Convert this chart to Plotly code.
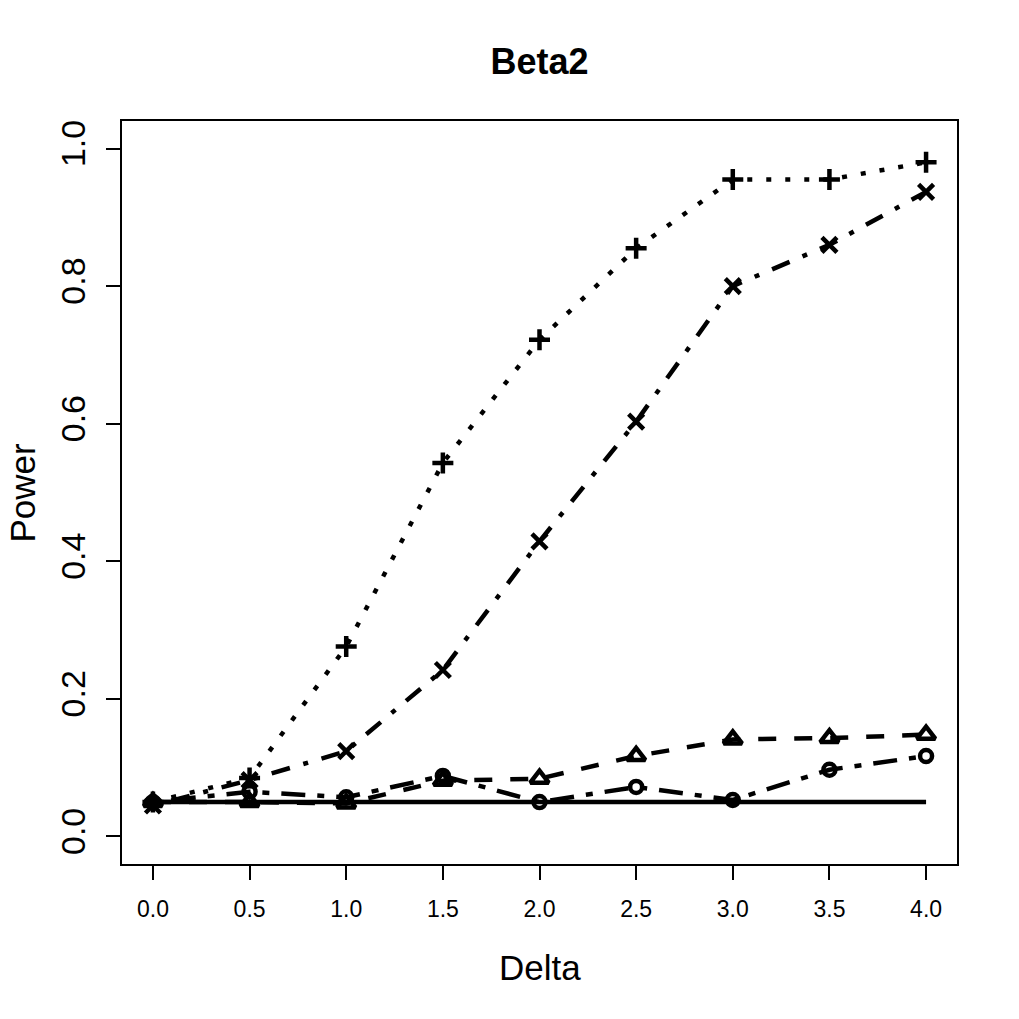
import plotly.graph_objects as go

delta = [0.0, 0.5, 1.0, 1.5, 2.0, 2.5, 3.0, 3.5, 4.0]
nominal = [0.05, 0.05, 0.05, 0.05, 0.05, 0.05, 0.05, 0.05, 0.05]
power_plus = [0.050, 0.085, 0.276, 0.543, 0.722, 0.855, 0.955, 0.955, 0.980]
power_cross = [0.045, 0.082, 0.124, 0.242, 0.429, 0.603, 0.800, 0.860, 0.937]
power_triangle = [0.050, 0.050, 0.048, 0.081, 0.084, 0.117, 0.141, 0.143, 0.148]
power_circle = [0.050, 0.065, 0.057, 0.088, 0.050, 0.072, 0.053, 0.097, 0.117]

x_ticks = [0.0, 0.5, 1.0, 1.5, 2.0, 2.5, 3.0, 3.5, 4.0]
y_ticks = [0.0, 0.2, 0.4, 0.6, 0.8, 1.0]

FONT = "Liberation Sans, Arial, Helvetica, sans-serif"
LW = 4.5
MLW = 4.5

fig = go.Figure()

fig.add_trace(go.Scatter(x=delta, y=nominal, mode="lines",
                         line=dict(color="black", width=LW)))

fig.add_trace(go.Scatter(x=delta, y=power_triangle, mode="lines+markers",
                         line=dict(color="black", width=LW, dash="18px,18px"),
                         marker=dict(symbol="triangle-up-open", size=16,
                                     color="black", line=dict(width=MLW, color="black"))))

fig.add_trace(go.Scatter(x=delta, y=power_plus, mode="lines+markers",
                         line=dict(color="black", width=LW, dash="5px,14px"),
                         marker=dict(symbol="cross-thin-open", size=15,
                                     color="black", line=dict(width=MLW, color="black"))))

fig.add_trace(go.Scatter(x=delta, y=power_cross, mode="lines+markers",
                         line=dict(color="black", width=LW, dash="5px,14px,19px,14px"),
                         marker=dict(symbol="x-thin-open", size=15,
                                     color="black", line=dict(width=MLW, color="black"))))

fig.add_trace(go.Scatter(x=delta, y=power_circle, mode="lines+markers",
                         line=dict(color="black", width=LW, dash="7px,12px,24px,12px"),
                         marker=dict(symbol="circle-open", size=12,
                                     color="black", line=dict(width=MLW, color="black"))))

fig.update_layout(
    width=1019, height=1019,
    margin=dict(l=122, r=62, t=121, b=155),
    paper_bgcolor="white", plot_bgcolor="white",
    showlegend=False,
    font=dict(family=FONT, color="black"),
    title=dict(text="<b>Beta2</b>", x=0.5, xref="paper", xanchor="center",
               y=1 - 61 / 1019, yref="container", yanchor="middle",
               font=dict(size=36, family=FONT, color="black")),
    xaxis=dict(range=[-0.16, 4.16], tickmode="array", tickvals=x_ticks,
               ticktext=[f"{v:.1f}" for v in x_ticks],
               ticks="outside", ticklen=14, tickwidth=1.5, tickcolor="black",
               tickfont=dict(size=23, family=FONT, color="black"),
               ticklabelstandoff=10,
               showline=True, linecolor="black", linewidth=1.5, mirror=True,
               showgrid=False, zeroline=False),
    yaxis=dict(range=[-0.04, 1.04], tickmode="array", tickvals=y_ticks,
               ticktext=[f"{v:.1f}" for v in y_ticks],
               ticks="outside", ticklen=14, tickwidth=1.5, tickcolor="black",
               tickangle=-90,
               tickfont=dict(size=34, family=FONT, color="black"),
               ticklabelstandoff=8,
               showline=True, linecolor="black", linewidth=1.5, mirror=True,
               showgrid=False, zeroline=False),
    annotations=[
        dict(text="Delta", x=0.5, xref="paper", y=-(967 - 864) / 743, yref="paper",
             xanchor="center", yanchor="middle", showarrow=False,
             font=dict(size=35, family=FONT, color="black")),
        dict(text="Power", x=-(122 - 22) / 835, xref="paper", y=0.5, yref="paper",
             xanchor="center", yanchor="middle", showarrow=False, textangle=-90,
             font=dict(size=35, family=FONT, color="black")),
    ],
)

fig.write_html("out.html")
